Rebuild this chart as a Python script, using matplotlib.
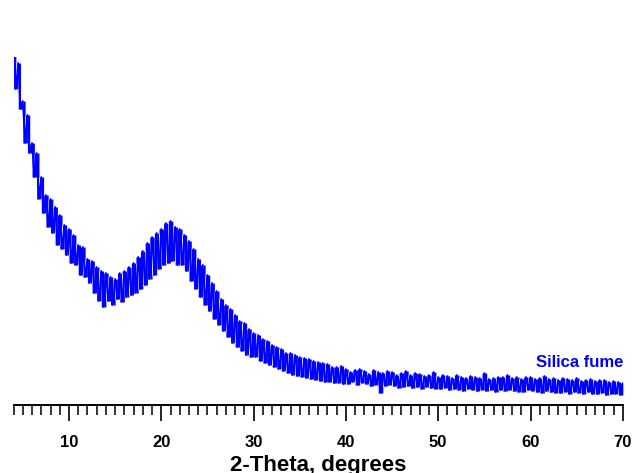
import numpy as np
import matplotlib
matplotlib.use('Agg')
import matplotlib.pyplot as plt
from matplotlib.ticker import MultipleLocator

# XRD scan of silica fume (arbitrary counts)
# one value every 0.25 deg, starting at 4 deg
counts_4_20 = [
    360, 316, 342, 296,  304, 262, 290, 252,  262, 228, 252, 206,
    228, 192, 210, 178,  206, 172, 198, 160,  190, 156, 180, 150,
    176, 142, 170, 140,  160, 130, 158, 128,  146, 122, 144, 112,
    138, 104, 134, 98,   132, 104, 128, 100,  126, 106, 132, 103,
    134, 108, 138, 110,  142, 112, 148, 116,  154, 120, 162, 126,
    168, 130, 172, 136,
]
counts_20_40 = [
    176, 140, 182, 142,  184, 144, 178, 140,  176, 140, 170, 134,
    164, 124, 156, 116,  146, 108, 140, 100,  130, 94, 122, 86,
    114, 80, 106, 74,    100, 68, 96, 62,     90, 58, 84, 54,
    82, 50, 76, 48,      72, 48, 70, 44,      66, 42, 64, 40,
    60, 38, 58, 36,      56, 34, 52, 32,      52, 30, 50, 29,
    48, 28, 47, 27,      46, 26, 44, 25,      43, 24, 42, 23,
    41, 23, 38, 22,      38, 22, 39, 21,
]
counts_40_70 = [
    36, 21, 33, 23,  35, 20, 36, 22,  34, 21, 31, 19,  35, 20, 33, 12,
    32, 19, 34, 20,  33, 19, 30, 17,  32, 18, 34, 19,  30, 17, 32, 18,
    31, 16, 29, 18,  30, 17, 33, 16,  28, 16, 30, 17,  29, 15, 27, 16,
    30, 15, 28, 14,  27, 16, 29, 15,  28, 14, 27, 15,  32, 14, 26, 15,
    27, 13, 28, 15,  28, 14, 30, 15,  27, 14, 28, 13,  26, 13, 28, 15,
    28, 14, 26, 13,  27, 12, 29, 14,  26, 13, 27, 12,  25, 12, 27, 13,
    26, 11, 25, 13,  27, 12, 24, 11,  25, 13, 26, 11,  24, 11, 25, 12,
    25, 10, 23, 11,  24, 11, 23, 10,  22, 11,
]
counts = np.array(counts_4_20 + counts_20_40 + counts_40_70)
two_theta = 4 + 0.25 * np.arange(len(counts))

blue = '#0000FF'
plt.rcParams['font.family'] = ['Liberation Sans', 'DejaVu Sans']
plt.rcParams['font.weight'] = 'bold'

fig = plt.figure(figsize=(6.32, 4.73), dpi=100)
ax = fig.add_axes([0.0215, 0.1438, 0.964, 0.7357])

# noisy scan: shade between neighbouring readings, then the trace on top
ax.fill_between(two_theta[:-1], counts[:-1], counts[1:], step='post',
                color=blue, lw=0)
ax.plot(two_theta, counts, color=blue, lw=1.3)
ax.text(70.05, 38, 'Silica fume', color=blue, fontsize=12, fontweight='bold',
        ha='right', va='baseline')

ax.set_xlim(4, 70)
ax.set_ylim(0, 348)
for s in ['top', 'left', 'right']:
    ax.spines[s].set_visible(False)
ax.spines['bottom'].set_linewidth(1.4)
ax.set_yticks([])
ax.xaxis.set_major_locator(MultipleLocator(10))
ax.xaxis.set_minor_locator(MultipleLocator(1))
ax.tick_params(axis='x', which='major', direction='out', length=11.5, width=1.2,
               pad=10, labelsize=12)
ax.tick_params(axis='x', which='minor', direction='out', length=7, width=1.1)
ax.set_xlabel('2-Theta, degrees', fontsize=16, fontweight='bold', labelpad=4)

fig.savefig('out.png', dpi=100)
